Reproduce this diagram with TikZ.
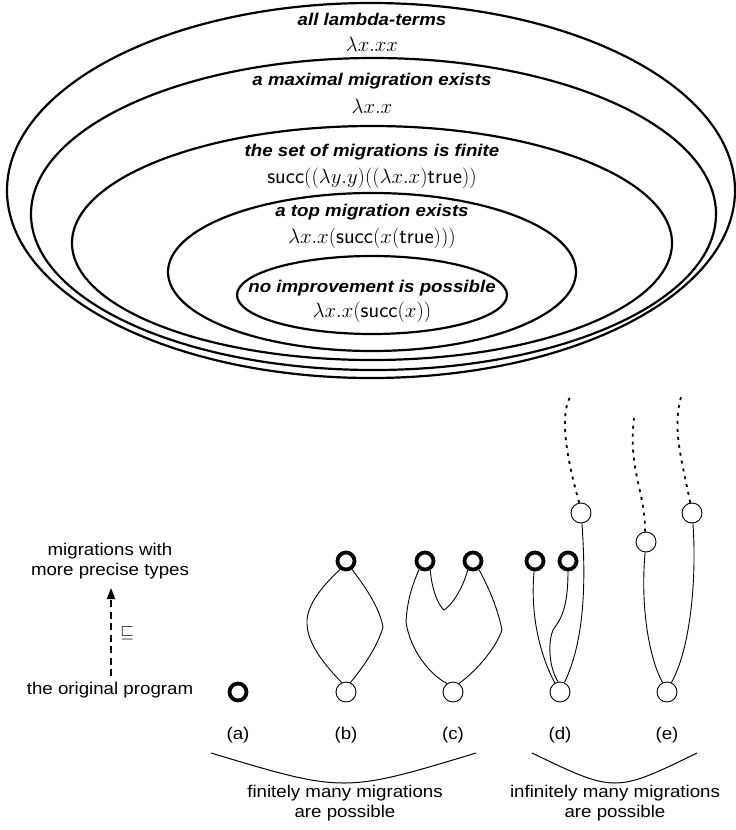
\documentclass[tikz,border=0pt]{standalone}
\usepackage[no-math]{fontspec}
\setmainfont{Liberation Sans}
\newfontfamily\lab{Liberation Sans}[FakeStretch=1.1]
\usetikzlibrary{arrows.meta}
\begin{document}
\begin{tikzpicture}[x=1pt,y=-1pt,
  ell/.style={line width=2.2pt},
  head/.style={font=\lab\fontsize{17}{17}\selectfont\bfseries\itshape, inner sep=0pt},
  term/.style={font=\fontsize{22}{22}\selectfont, inner sep=0pt},
  lbl/.style={font=\lab\fontsize{17}{20}\selectfont, align=center, inner sep=0pt},
  ring/.style={circle, draw, line width=3.8pt, minimum size=17pt, inner sep=0pt},
  dotnode/.style={circle, draw, line width=0.9pt, minimum size=20pt, inner sep=0pt},
  conn/.style={line width=0.9pt},
  dotted conn/.style={line width=1.8pt, dash pattern=on 3pt off 5pt},
  brace/.style={line width=1pt}]
\useasboundingbox (0,0) rectangle (736,830);

% nested ellipses
\draw[ell] (371,190.5) ellipse [x radius=364, y radius=187.5];
\draw[ell] (373.5,214) ellipse [x radius=342.5, y radius=156];
\draw[ell] (372,243) ellipse [x radius=300, y radius=117];
\draw[ell] (372,272) ellipse [x radius=204, y radius=79];
\draw[ell] (372,295) ellipse [x radius=135, y radius=39];

\node[head] (h1) at (372,19) {all lambda-terms};
\node[term] (t1) at (372,44) {$\lambda x.xx$};
\node[head] (h2) at (372,81) {a maximal migration exists};
\node[term] (t2) at (372,106) {$\lambda x.x$};
\node[head] (h3) at (372,152) {the set of migrations is finite};
\node[term] (t3) at (372,178) {\textsf{succ}$((\lambda y.y)((\lambda x.x)$\textsf{true}$))$};
\node[head] (h4) at (372,212) {a top migration exists};
\node[term] (t4) at (372,238) {$\lambda x.x($\textsf{succ}$(x($\textsf{true}$)))$};
\node[head] (h5) at (372,288) {no improvement is possible};
\node[term] (t5) at (372,312) {$\lambda x.x($\textsf{succ}$(x))$};

% left legend
\node[lbl] (mig) at (110,561) {migrations with\\more precise types};
\node[lbl] (orig) at (110,690) {the original program};
\coordinate (arrlo) at (111,676);
\coordinate (arrhi) at (111,588);
\draw[line width=1.8pt, dash pattern=on 7pt off 4.5pt, -{Triangle[width=8pt,length=11pt]}] (arrlo) -- (arrhi);
\node[font=\fontsize{16}{16}\selectfont, inner sep=0pt] (sq) at (127,633) {$\sqsubseteq$};

% (a)
\node[ring] (a0) at (238,692) {};

% (b)
\node[ring] (bt) at (346,561) {};
\node[dotnode] (bb) at (346,692) {};
\draw[conn] (bt.235) .. controls (318,590) and (306,608) .. (307,624)
  .. controls (308,645) and (325,665) .. (bb.115);
\draw[conn] (bt.-55) .. controls (368,590) and (380,610) .. (383,627)
  .. controls (378,645) and (365,665) .. (bb.65);

% (c)
\node[ring] (cl) at (425,561) {};
\node[ring] (cr) at (473,561) {};
\node[dotnode] (cb) at (453,692) {};
\draw[conn] (cl.235) .. controls (410,590) and (407,605) .. (406,622)
  .. controls (410,650) and (430,675) .. (cb.125);
\draw[conn] (cl.-60) .. controls (432,590) and (438,605) .. (444,610)
  .. controls (452,605) and (462,590) .. (cr.240);
\draw[conn] (cr.-55) .. controls (490,590) and (498,610) .. (502,630)
  .. controls (495,650) and (475,672) .. (cb.55);

% (d)
\node[ring] (dl) at (535,561) {};
\node[ring] (dr) at (568,561) {};
\node[dotnode] (du) at (581,513) {};
\node[dotnode] (db) at (560,692) {};
\draw[conn] (dl.-95) .. controls (530,615) and (540,655) .. (db.120);
\draw[conn] (dr.-90) .. controls (568,610) and (560,620) .. (553,630)
  .. controls (547,645) and (550,670) .. (db.100);
\draw[conn] (du.-85) .. controls (586,580) and (585,640) .. (db.65);
\coordinate (dtop) at (570,397);
\draw[dotted conn] (du.100) .. controls (570,470) and (558,420) .. (dtop);

% (e)
\node[dotnode] (el) at (646,542) {};
\node[dotnode] (er) at (692,513) {};
\node[dotnode] (eb) at (667,692) {};
\draw[conn] (el.-95) .. controls (640,610) and (650,660) .. (eb.115);
\draw[conn] (er.-85) .. controls (697,580) and (690,650) .. (eb.65);
\coordinate (eltop) at (634,418);
\coordinate (ertop) at (681,397);
\draw[dotted conn] (el.95) .. controls (645,490) and (628,470) .. (eltop);
\draw[dotted conn] (er.100) .. controls (682,460) and (672,430) .. (ertop);

% labels
\node[lbl] (la) at (238,735) {(a)};
\node[lbl] (lb) at (346,735) {(b)};
\node[lbl] (lc) at (453,735) {(c)};
\node[lbl] (ld) at (560,735) {(d)};
\node[lbl] (le) at (667,735) {(e)};

% braces
\coordinate (b1l) at (211,753);
\coordinate (b1r) at (476,753);
\coordinate (b2l) at (532,753);
\coordinate (b2r) at (697,753);
\draw[brace] (b1l) .. controls (344,793) .. (b1r);
\draw[brace] (b2l) .. controls (615,793) .. (b2r);

\node[lbl] (fin) at (345,803) {finitely many migrations\\are possible};
\node[lbl] (inf) at (615,803) {infinitely many migrations\\are possible};
\end{tikzpicture}
\end{document}
